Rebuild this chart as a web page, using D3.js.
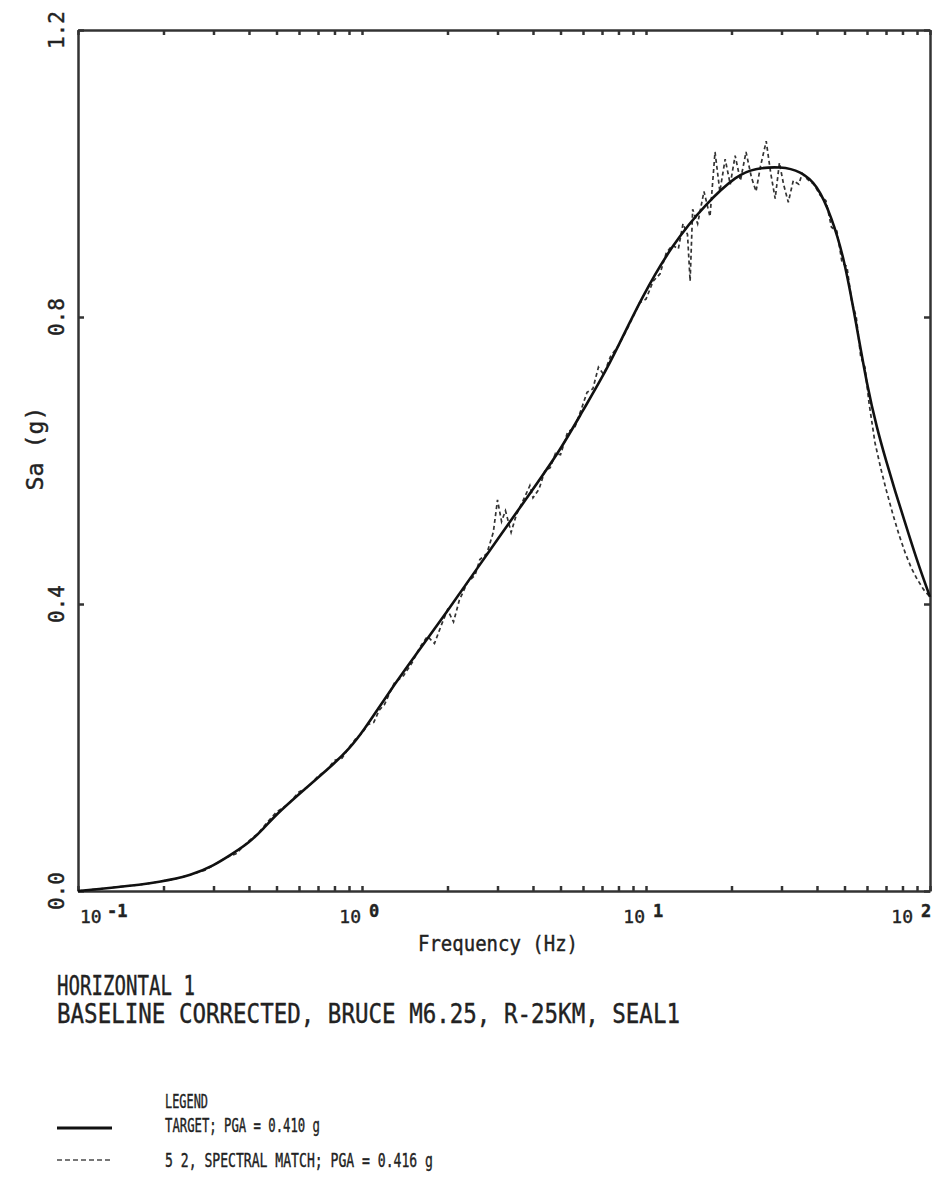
<!DOCTYPE html>
<html>
<head>
<meta charset="utf-8">
<script src="https://cdn.jsdelivr.net/npm/d3@7/dist/d3.min.js"></script>
<style>
    body { margin: 0; background: #fff; }
    text { font-family: "DejaVu Sans Mono", monospace; fill: #222; stroke: #222; stroke-width: 0.4; }
    .axis path, .axis line { stroke: #333; stroke-width: 2.5; }
</style>
</head>
<body>
<div id="chart-area"></div>
<script>

// Target spectrum (frequency in Hz, Sa in g)
let targetFreq = [0.1, 0.13, 0.2, 0.25, 0.3, 0.35, 0.4, 0.45, 0.5, 0.6, 0.7, 0.8, 0.9, 1.0,
    1.25, 1.5, 2.0, 2.6, 3.0, 4.0, 5.0, 6.0, 7.0, 8.0, 9.6, 12.3, 16.4, 21, 24, 30, 35, 40,
    45, 50, 55, 60, 65, 70, 75, 80, 90, 100];
let targetSa = [0.0, 0.004, 0.013, 0.022, 0.035, 0.052, 0.067, 0.087, 0.107, 0.135, 0.158, 0.178, 0.198, 0.22,
    0.278, 0.322, 0.39, 0.455, 0.49, 0.56, 0.615, 0.67, 0.715, 0.76, 0.825, 0.9, 0.96, 0.998, 1.007, 1.01, 1.003, 0.985,
    0.94, 0.88, 0.79, 0.705, 0.645, 0.6, 0.56, 0.525, 0.46, 0.41];

// Spectral match (dashed)
let matchFreq = [0.1, 0.12, 0.14, 0.16, 0.18, 0.2, 0.22, 0.25, 0.28, 0.3, 0.33, 0.36, 0.4, 0.43, 0.46, 0.5,
    0.55, 0.6, 0.65, 0.7, 0.75, 0.8, 0.85, 0.9, 0.95, 1.0, 1.05, 1.1, 1.15, 1.2, 1.3, 1.4, 1.5, 1.6, 1.7,
    1.8, 1.9, 2.0, 2.1, 2.2, 2.35, 2.5, 2.6, 2.75, 2.9, 3.0, 3.1, 3.2, 3.35, 3.5, 3.7, 3.9, 4.0, 4.2, 4.4,
    4.6, 4.8, 5.0, 5.3, 5.6, 5.9, 6.2, 6.5, 6.8, 7.1, 7.5, 8.0, 8.5, 9.0, 9.5, 10, 10.6, 11.2, 11.8, 12.4,
    13.0, 13.5, 14.0, 14.3, 14.6, 15.2, 16.0, 16.8, 17.5, 18.2, 19.0, 19.8, 20.6, 21.5, 22.5, 23.5, 24.4,
    25.3, 26.5, 27.5, 28.5, 29.5, 30.5, 31.7, 33, 34.5, 35.5, 37, 39, 41, 43, 45, 47, 49, 51, 53, 55, 57,
    59, 61, 64, 67, 70, 74, 78, 82, 86, 90, 95, 100];
let matchSa = [0.0, 0.003, 0.006, 0.008, 0.011, 0.014, 0.017, 0.023, 0.029, 0.036, 0.046, 0.052, 0.07, 0.08, 0.094, 0.11,
    0.121, 0.138, 0.146, 0.16, 0.168, 0.182, 0.185, 0.2, 0.212, 0.22, 0.232, 0.235, 0.252, 0.26, 0.29, 0.3, 0.318, 0.34, 0.355,
    0.345, 0.37, 0.392, 0.375, 0.405, 0.43, 0.44, 0.462, 0.47, 0.5, 0.545, 0.515, 0.53, 0.5, 0.525, 0.545, 0.565, 0.548, 0.56, 0.585,
    0.59, 0.61, 0.608, 0.64, 0.645, 0.67, 0.695, 0.7, 0.73, 0.72, 0.745, 0.76, 0.78, 0.8, 0.82, 0.825, 0.85, 0.86, 0.89, 0.9,
    0.895, 0.93, 0.915, 0.85, 0.95, 0.93, 0.975, 0.94, 1.03, 0.975, 1.02, 0.985, 1.025, 0.99, 1.03, 0.995, 0.975,
    1.01, 1.045, 1.0, 0.965, 1.015, 0.985, 0.96, 0.99, 0.985, 1.0, 0.992, 0.985, 0.97, 0.962, 0.925, 0.92, 0.876, 0.87, 0.822, 0.8, 0.745,
    0.73, 0.68, 0.625, 0.59, 0.56, 0.525, 0.495, 0.47, 0.45, 0.435, 0.42, 0.41];

// Axis ticks and labels
let xDecades = [0.1, 1, 10, 100];
let xExponents = ["-1", "0", "1", "2"];
let yTicks = [0, 0.4, 0.8, 1.2];
let yLabels = ["0.0", "0.4", "0.8", "1.2"];

let captionLines = ["HORIZONTAL 1", "BASELINE CORRECTED, BRUCE M6.25, R-25KM, SEAL1"];
let legendTitle = "LEGEND";
let legendLabels = ["TARGET; PGA = 0.410 g", "5 2,  SPECTRAL MATCH; PGA = 0.416 g"];


// SVG drawing area
let margin = {top: 30, right: 9, bottom: 287, left: 78};

let width = 939 - margin.left - margin.right,
    height = 1178 - margin.top - margin.bottom;

let root = d3.select("#chart-area").append("svg")
    .attr("width", 939)
    .attr("height", 1178);

let svg = root.append("g")
    .attr("transform", "translate(" + margin.left + "," + margin.top + ")");

// Scales
let x = d3.scaleLog()
    .domain([0.1, 100])
    .range([0, width]);

let y = d3.scaleLinear()
    .domain([0, 1.2])
    .range([height, 0]);

// minor + major ticks on the log axis
let xTickValues = [];
xDecades.slice(0, -1).forEach(function (d) {
    for (let m = 1; m < 10; m++) xTickValues.push(d * m);
});
xTickValues.push(100);

// Axes (ticks point inward, box frame)
svg.append("g")
    .attr("class", "axis")
    .attr("transform", "translate(0," + height + ")")
    .call(d3.axisBottom(x).tickValues(xTickValues).tickSize(-5).tickSizeOuter(0).tickFormat(""));

svg.append("g")
    .attr("class", "axis")
    .call(d3.axisTop(x).tickValues(xTickValues).tickSize(-5).tickSizeOuter(0).tickFormat(""));

svg.append("g")
    .attr("class", "axis")
    .call(d3.axisLeft(y).tickValues(yTicks).tickSize(-6).tickSizeOuter(0).tickFormat(""));

svg.append("g")
    .attr("class", "axis")
    .attr("transform", "translate(" + width + ",0)")
    .call(d3.axisRight(y).tickValues(yTicks).tickSize(-6).tickSizeOuter(0).tickFormat(""));

// X tick labels: 10 with superscript exponent
xDecades.forEach(function (d, i) {
    let px = x(d);
    let g = svg.append("g");
    if (i === 0) {
        g.append("text").attr("x", px + 2).attr("y", height + 32)
            .attr("font-size", 18).text("10");
        g.append("text").attr("x", px + 29).attr("y", height + 26)
            .attr("font-size", 17).attr("font-weight", "bold").text(xExponents[i]);
    } else {
        let shift = (i === xDecades.length - 1) ? 16 : 0;
        g.append("text").attr("x", px - 1 - shift).attr("y", height + 32)
            .attr("text-anchor", "end").attr("font-size", 18).text("10");
        g.append("text").attr("x", px + 7 - shift).attr("y", height + 26)
            .attr("font-size", 17).attr("font-weight", "bold").text(xExponents[i]);
    }
});

// Y tick labels, rotated
yTicks.forEach(function (d, i) {
    svg.append("text")
        .attr("transform", "translate(-14," + y(d) + ") rotate(-90)")
        .attr("text-anchor", "middle")
        .attr("font-size", 21)
        .text(yLabels[i]);
});

// Axis titles
svg.append("text")
    .attr("x", 420)
    .attr("y", height + 60)
    .attr("text-anchor", "middle")
    .attr("font-size", 21)
    .attr("textLength", 160)
    .attr("lengthAdjust", "spacingAndGlyphs")
    .text("Frequency (Hz)");

svg.append("text")
    .attr("transform", "translate(-35," + (height / 2 - 12) + ") rotate(-90)")
    .attr("text-anchor", "middle")
    .attr("font-size", 23)
    .attr("textLength", 84)
    .attr("lengthAdjust", "spacingAndGlyphs")
    .text("Sa (g)");

// Line functions
let line = d3.line()
    .x(function (d) { return x(d.f); })
    .y(function (d) { return y(d.sa); });

let targetData = targetFreq.map(function (f, i) { return {f: f, sa: targetSa[i]}; });
let matchData = matchFreq.map(function (f, i) { return {f: f, sa: matchSa[i]}; });

svg.append("path")
    .attr("d", line.curve(d3.curveLinear)(matchData))
    .attr("fill", "none")
    .attr("stroke", "#333")
    .attr("stroke-width", 1.7)
    .attr("stroke-dasharray", "4,3");

svg.append("path")
    .attr("d", line.curve(d3.curveBasis)(targetData))
    .attr("fill", "none")
    .attr("stroke", "#111")
    .attr("stroke-width", 2.6);

// Caption
root.append("text")
    .attr("x", 57).attr("y", 995)
    .attr("font-size", 27)
    .attr("textLength", 138)
    .attr("lengthAdjust", "spacingAndGlyphs")
    .text(captionLines[0]);

root.append("text")
    .attr("x", 57).attr("y", 1023)
    .attr("font-size", 27)
    .attr("textLength", 623)
    .attr("lengthAdjust", "spacingAndGlyphs")
    .text(captionLines[1]);

// Legend
root.append("text")
    .attr("x", 165).attr("y", 1108)
    .attr("font-size", 19)
    .attr("textLength", 43)
    .attr("lengthAdjust", "spacingAndGlyphs")
    .text(legendTitle);

let legendLengths = [155, 268];
let legendY = [1132, 1167];

legendLabels.forEach(function (d, i) {
    root.append("text")
        .attr("x", 165).attr("y", legendY[i])
        .attr("font-size", 19)
        .attr("textLength", legendLengths[i])
        .attr("lengthAdjust", "spacingAndGlyphs")
        .text(d);
});

root.append("line")
    .attr("x1", 57).attr("x2", 112)
    .attr("y1", legendY[0] - 4).attr("y2", legendY[0] - 4)
    .attr("stroke", "#111").attr("stroke-width", 3);

root.append("line")
    .attr("x1", 57).attr("x2", 110)
    .attr("y1", legendY[1] - 7).attr("y2", legendY[1] - 7)
    .attr("stroke", "#777").attr("stroke-width", 2)
    .attr("stroke-dasharray", "5,3");

</script>
</body>
</html>
